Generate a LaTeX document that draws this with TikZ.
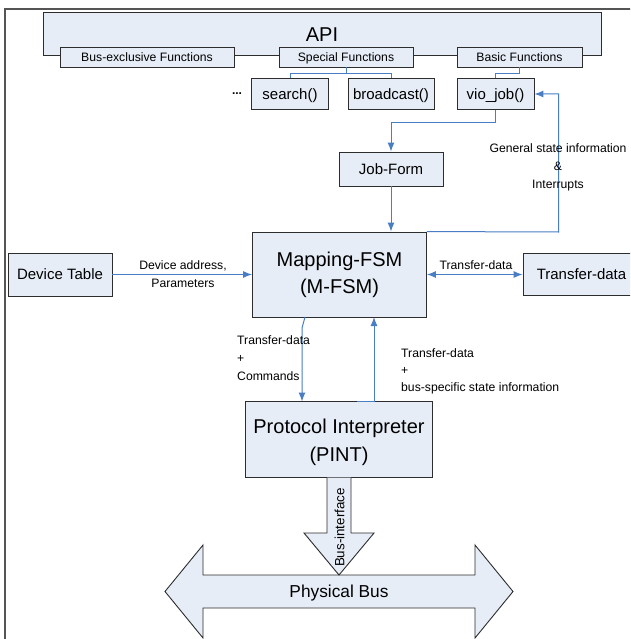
\documentclass[tikz,border=0pt]{standalone}
\usepackage{fontspec}
\setmainfont{Liberation Sans}
\usetikzlibrary{arrows.meta}
\definecolor{boxfill}{RGB}{231,237,247}
\definecolor{boxline}{RGB}{45,45,45}
\definecolor{linkblue}{RGB}{74,126,196}
\definecolor{framegray}{RGB}{85,85,85}
\newcommand{\fsz}[2]{\fontsize{#1}{#2}\selectfont}
\begin{document}
\begin{tikzpicture}[x=1pt,y=-1pt,
  box/.style={draw=boxline, fill=boxfill, line width=0.9pt, inner sep=0pt, rectangle},
  blk/.style={draw=boxline, fill=boxfill, line width=0.9pt, line join=miter},
  smalltxt/.style={font=\fsz{12.2}{14}, text height=8.8pt, text depth=0pt},
  medtxt/.style={font=\fsz{15}{18}, text height=10.8pt, text depth=0pt},
  lab/.style={font=\fsz{12.2}{18}, inner sep=0pt, anchor=north},
  link/.style={draw=linkblue, line width=1pt},
  arr/.style={link, -{Latex[length=9pt,width=7pt]}},
  darr/.style={link, {Latex[length=9pt,width=7pt]}-{Latex[length=9pt,width=7pt]}}
]
\useasboundingbox (0,0) rectangle (630,639);
\clip (0,0) rectangle (630,639);
\fill[white] (0,0) rectangle (630,639);

% outer frame
\draw[framegray, line width=2pt] (5,650) -- (5,9) -- (650,9);

% API
\node[box, minimum width=558, minimum height=43] (api) at (322,33.5) {};
\node[anchor=base, font=\fsz{20}{24}, inner sep=0pt] (apit) at (322,42) {API};
\node[box, smalltxt, minimum width=174, minimum height=20] (busx) at (147,57) {Bus-exclusive Functions};
\node[box, smalltxt, minimum width=134, minimum height=20] (spec) at (346,57) {Special Functions};
\node[box, smalltxt, minimum width=125, minimum height=20] (basic) at (519.5,57) {Basic Functions};

% functions
\node[anchor=base, font=\fsz{12}{14}\bfseries, inner sep=0pt] (dots) at (237,95) {...};
\node[box, medtxt, minimum width=76.5, minimum height=31.5] (search) at (290,94) {search()};
\node[box, medtxt, minimum width=86, minimum height=31.5] (bc) at (391,94) {broadcast()};
\node[box, medtxt, minimum width=77, minimum height=31.5] (vio) at (495.5,94) {vio\_job()};

% Job-Form
\node[box, medtxt, minimum width=104, minimum height=34] (job) at (391,169) {Job-Form};

% M-FSM
\node[box, minimum width=174, minimum height=85] (mfsm) at (339.5,274.5) {};
\node[anchor=base, font=\fsz{20}{24}, inner sep=0pt] (mfsm1) at (339.5,266) {Mapping-FSM};
\node[anchor=base, font=\fsz{20}{24}, inner sep=0pt] (mfsm2) at (339.5,293) {(M-FSM)};

% side boxes
\node[box, medtxt, minimum width=104, minimum height=43] (dev) at (60,274.5) {Device Table};
\node[box, medtxt, minimum width=117, minimum height=42] (td) at (581.5,274) {Transfer-data};

% PINT
\node[box, minimum width=187, minimum height=76] (pint) at (339,439.5) {};
\node[anchor=base, font=\fsz{20}{24}, inner sep=0pt] (pint1) at (339,433) {Protocol Interpreter};
\node[anchor=base, font=\fsz{20}{24}, inner sep=0pt] (pint2) at (339,461) {(PINT)};

% Physical bus (double block arrow)
\draw[blk] (165,591.5) -- (203,545) -- (203,575) -- (475,575) -- (475,545) -- (513,591.5)
  -- (475,638) -- (475,608) -- (203,608) -- (203,638) -- cycle;
\node[font=\fsz{17.3}{20}, text height=12.4pt, text depth=0pt, inner sep=0pt] (busl) at (339,591.5) {Physical Bus};

% Bus-interface block arrow
\draw[blk] (327,477.5) -- (327,533) -- (304,533) -- (339,575) -- (374,533) -- (351,533) -- (351,477.5);
\node[rotate=90, font=\fsz{13.4}{16}, text height=9.6pt, text depth=0pt, inner sep=0pt] (bif) at (339.5,527.5) {Bus-interface};

% connectors
\draw[link] (spec.south) -- ++(0,6) -| (search.north);
\draw[link] (spec.south) -- ++(0,6) -| (bc.north);
\draw[link] (basic.south) -- ++(0,6) -| (vio.north);
\draw[arr] (vio.south) -- ++(0,12) -| (job.north);
\draw[arr] (job.south) -- (job.south |- mfsm.north);
\coordinate (ret) at (558.5,232);
\draw[arr] (mfsm.north east) -- (ret) |- (vio.east);
\draw[arr] (dev.east) -- (mfsm.west);
\draw[darr] (mfsm.east) -- (td.west |- mfsm.east);
\coordinate (dn) at (305,317);
\draw[arr] (dn) -- (302,328) -- (302,401.5);
\coordinate (up0) at (357,401.5);
\draw[arr] (up0) -- (374,401.5) -- (374,317);

% labels
\node[lab, align=center] (l1) at (183,260) {Device address,\\Parameters};
\node[lab, align=center] (l2) at (476,260) {Transfer-data};
\node[lab, align=left, anchor=north west] (l3) at (237,335) {Transfer-data\\+\\Commands};
\node[lab, align=left, anchor=north west, font=\fsz{12.2}{17}] (l4) at (401,348) {Transfer-data\\+\\bus-specific state information};
\node[lab, align=center] (l5) at (558,143) {General state information\\\&\\Interrupts};
\end{tikzpicture}
\end{document}
